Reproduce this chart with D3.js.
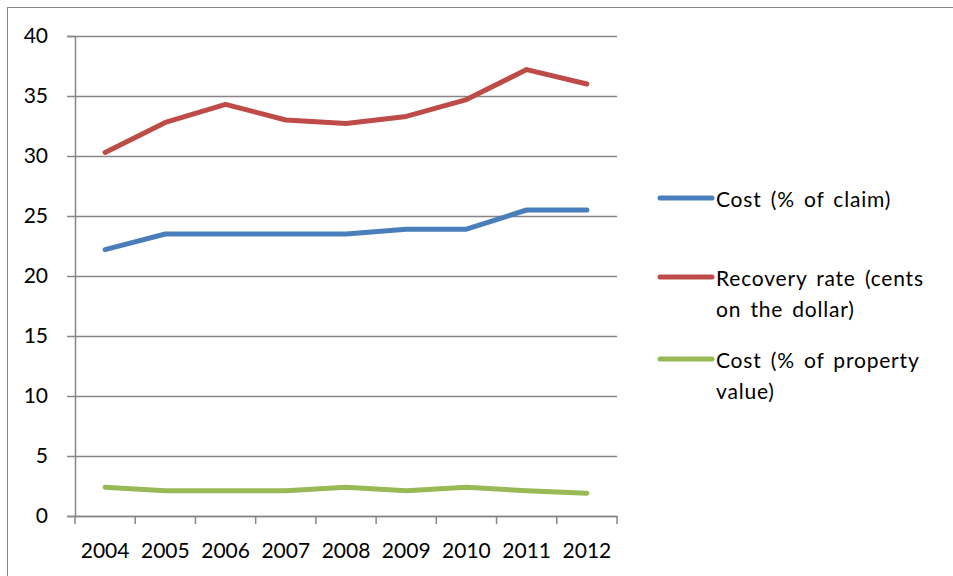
<!DOCTYPE html>
<html><head><meta charset="utf-8">
<script src="https://cdn.jsdelivr.net/npm/d3@7"></script>
<style>body{margin:0;background:#fff;} svg{display:block;} text{font-family:Lato,"Open Sans",sans-serif;fill:#000;}</style>
</head><body>
<svg id="c" width="953" height="576"></svg>
<script>
const years = ["2004","2005","2006","2007","2008","2009","2010","2011","2012"];
const costClaim = [22.2,23.5,23.5,23.5,23.5,23.9,23.9,25.5,25.5];
const recoveryRate = [30.3,32.8,34.3,33.0,32.7,33.3,34.7,37.2,36.0];
const costProperty = [2.4,2.1,2.1,2.1,2.4,2.1,2.4,2.1,1.9];
const yTicks = [0,5,10,15,20,25,30,35,40];
const seriesNames = [["Cost (% of claim)"],["Recovery rate (cents","on the dollar)"],["Cost (% of property","value)"]];
const colors = ["#4a7ebb","#be4b48","#98b954"];

const svg = d3.select("#c");
svg.append("rect").attr("x",7.5).attr("y",7.5).attr("width",960).attr("height",600)
  .attr("fill","none").attr("stroke","#868686").attr("stroke-width",1);

const L=75,R=617,T=36,B=516;
const x = d3.scaleBand().domain(years).range([L,R]);
const y = d3.scaleLinear().domain([0,40]).range([B,T]);
const FONT = "Lato,'Open Sans',sans-serif";

svg.append("g").selectAll("line").data(yTicks).join("line")
  .attr("x1",L).attr("x2",R).attr("y1",d=>y(d)+0.5).attr("y2",d=>y(d)+0.5)
  .attr("stroke","#868686").attr("stroke-width",1.5);

const yAxis = svg.append("g").attr("transform",`translate(${L},0)`)
  .call(d3.axisLeft(y).tickValues(yTicks).tickSize(8).tickPadding(19));
yAxis.select(".domain").attr("stroke","#868686").attr("stroke-width",1.5);
yAxis.selectAll(".tick line").attr("stroke","#868686").attr("stroke-width",1.5);
yAxis.selectAll("text").attr("font-size",21).attr("font-family",FONT).attr("fill","#000");

const xAxis = svg.append("g").attr("transform",`translate(0,${B})`)
  .call(d3.axisBottom(x).tickSize(0).tickPadding(27));
xAxis.select(".domain").attr("stroke","#868686").attr("stroke-width",1.5);
xAxis.selectAll("text").attr("font-size",21).attr("font-family",FONT).attr("fill","#000");
const bounds = years.map(d=>x(d)).concat([R]);
svg.append("g").selectAll("line").data(bounds).join("line")
  .attr("x1",d=>d).attr("x2",d=>d).attr("y1",B).attr("y2",B+8)
  .attr("stroke","#868686").attr("stroke-width",1.5);

const line = d3.line().x((d,i)=>x(years[i])+x.bandwidth()/2).y(d=>y(d));
[costClaim,recoveryRate,costProperty].forEach((s,i)=>{
  svg.append("path").datum(s).attr("d",line).attr("fill","none")
    .attr("stroke",colors[i]).attr("stroke-width",5)
    .attr("stroke-linecap","round").attr("stroke-linejoin","round");
});

const legY = [198,277,359];
seriesNames.forEach((lines,i)=>{
  svg.append("line").attr("x1",660).attr("x2",712).attr("y1",legY[i]).attr("y2",legY[i])
    .attr("stroke",colors[i]).attr("stroke-width",5).attr("stroke-linecap","round");
  const t = svg.append("text").attr("x",716).attr("y",legY[i]+8.5).attr("font-size",21)
    .attr("letter-spacing",0.8).attr("word-spacing",3);
  lines.forEach((s,j)=>t.append("tspan").attr("x",716).attr("dy",j?31:0).text(s));
});
</script>
</body></html>
